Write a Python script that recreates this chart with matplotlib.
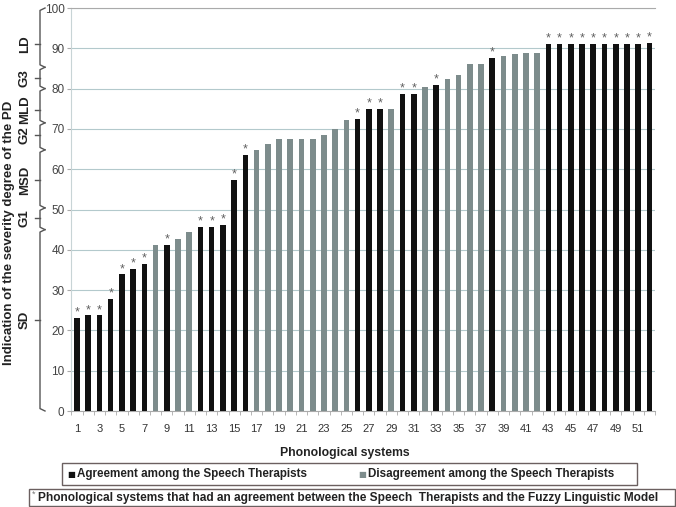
import matplotlib
matplotlib.use("Agg")
import matplotlib.pyplot as plt
import matplotlib.transforms as mtransforms
from matplotlib.patches import Rectangle
import numpy as np

plt.rcParams['font.family'] = ['Liberation Sans', 'DejaVu Sans']

# ---- data ----
systems = list(range(1, 53))
values = [23.2, 23.7, 23.7, 27.9, 33.9, 35.3, 36.6, 41.1, 41.3, 42.8,
          44.3, 45.7, 45.7, 46.2, 57.4, 63.5, 64.8, 66.3, 67.4, 67.4,
          67.4, 67.4, 68.6, 70.0, 72.2, 72.5, 75.0, 75.0, 75.0, 78.7,
          78.7, 80.5, 81.0, 82.3, 83.4, 86.1, 86.1, 87.7, 88.1, 88.6,
          88.8, 88.8, 91.1, 91.1, 91.1, 91.1, 91.1, 91.1, 91.1, 91.1,
          91.1, 91.3]
# 1 = agreement among the speech therapists, 0 = disagreement
agreement = [1, 1, 1, 1, 1, 1, 1, 0, 1, 0,
             0, 1, 1, 1, 1, 1, 0, 0, 0, 0,
             0, 0, 0, 0, 0, 1, 1, 1, 0, 1,
             1, 0, 1, 0, 0, 0, 0, 1, 0, 0,
             0, 0, 1, 1, 1, 1, 1, 1, 1, 1,
             1, 1]
# asterisk: agreement with the Fuzzy Linguistic Model
fuzzy_agree = agreement[:]
xtick_labels = [str(i) for i in range(1, 52, 2)]
yticks = list(range(0, 101, 10))
# severity braces: (label, low, high, label position)
severity = [("LD", 85.3, 100, 91.0), ("G3", 80.0, 85.3, 82.6),
            ("MLD", 71.5, 80.0, 74.8), ("G2", 64.8, 71.5, 68.5),
            ("MSD", 50.4, 64.8, 57.3), ("G1", 45.0, 50.4, 47.9),
            ("SD", 0.0, 45.0, 22.6)]

legend_labels = ["Agreement among the Speech Therapists",
                 "Disagreement among the Speech Therapists"]
note = "Phonological systems that had an agreement between the Speech  Therapists and the Fuzzy Linguistic Model"

BLACK = "#111111"
GRAY = "#7d8c8c"
TXT = "#222222"

W, H = 676, 507
fig = plt.figure(figsize=(W / 100, H / 100), dpi=100)
ax = fig.add_axes([71.4 / W, 1 - 411 / H, (655 - 71.4) / W, (411 - 8) / H])

colors = [BLACK if a else GRAY for a in agreement]
ax.bar(systems, values, width=0.5, color=colors, zorder=3)
for s, v, f in zip(systems, values, fuzzy_agree):
    if f:
        ax.text(s, v - 0.2, "*", ha="center", va="bottom", fontsize=9,
                color="#606060", zorder=4)

ax.set_xlim(0.5, 52.5)
ax.set_ylim(0, 100)
ax.set_yticks(yticks)
ax.set_yticklabels([str(t) for t in yticks], fontsize=8.5, color="#444444")
ax.set_xticks(list(range(1, 52, 2)))
ax.set_xticklabels(xtick_labels, fontsize=8, color="#333333")
ax.set_xticks(np.arange(0.5, 53, 1.0), minor=True)
ax.tick_params(axis="x", which="major", length=0, pad=9)
ax.tick_params(axis="x", which="minor", length=3, color="#aaaaaa")
ax.tick_params(axis="y", length=3, pad=2, color="#aaaaaa")
ax.grid(axis="y", color="#b3c9cc", linewidth=0.8, zorder=0)
ax.spines["right"].set_visible(False)
ax.spines["top"].set_color("#aaaaaa")
ax.spines["left"].set_color("#c8d4d6")
ax.spines["bottom"].set_color("#aaaaaa")

# severity braces on the left
trans = mtransforms.blended_transform_factory(ax.transAxes, ax.transData)
axw = 655 - 71.4
x0 = (40 - 71.4) / axw
xhook = (45 - 71.4) / axw
xptr = (35 - 71.4) / axw
xlab = (25 - 71.4) / axw
bc = "#555555"
for lab, lo, hi, mid in severity:
    ax.plot([xhook, x0, x0, xhook], [hi, hi - 0.6, lo + 0.6, lo], color=bc,
            lw=1.0, transform=trans, clip_on=False)
    ax.plot([x0, xptr], [mid, mid], color=bc, lw=1.0, transform=trans,
            clip_on=False)
    ax.text(xlab, mid, lab, rotation=90, ha="center", va="center",
            fontsize=9.5, fontweight="bold", color=TXT, transform=trans)

fig.text(9 / W, 1 - 233 / H, "Indication of the severity degree of the PD",
         rotation=90, ha="center", va="center", fontsize=9.5,
         fontweight="bold", color=TXT)
fig.text(345 / W, 1 - 453 / H, "Phonological systems", ha="center",
         va="center", fontsize=8.8, fontweight="bold", color=TXT)

# legend boxes
fig.patches.append(Rectangle((62 / W, 1 - 485 / H), (637 - 62) / W, 22 / H,
                             transform=fig.transFigure, fill=False,
                             edgecolor="#6b6060", lw=1.0))
fig.patches.append(Rectangle((29 / W, 1 - 506 / H), (675 - 29) / W, 17 / H,
                             transform=fig.transFigure, fill=False,
                             edgecolor="#6b6060", lw=1.0))
yl = 1 - 474 / H
fig.text(67 / W, yl, "\u25a0", color=BLACK, fontsize=6, ha="left",
         va="center", family="DejaVu Sans")
fig.text(77 / W, yl, legend_labels[0], fontsize=8.4, fontweight="bold",
         ha="left", va="center", color=TXT)
fig.text(358 / W, yl, "\u25a0", color=GRAY, fontsize=6, ha="left",
         va="center", family="DejaVu Sans")
fig.text(368 / W, yl, legend_labels[1], fontsize=8.4, fontweight="bold",
         ha="left", va="center", color=TXT)
yn = 1 - 497.5 / H
fig.text(32 / W, yn + 0.006, "*", fontsize=6.5, color="#777777", ha="left",
         va="center")
fig.text(38 / W, yn, note, fontsize=8.6, fontweight="bold", ha="left",
         va="center", color=TXT)

fig.savefig("out.png", dpi=100)
